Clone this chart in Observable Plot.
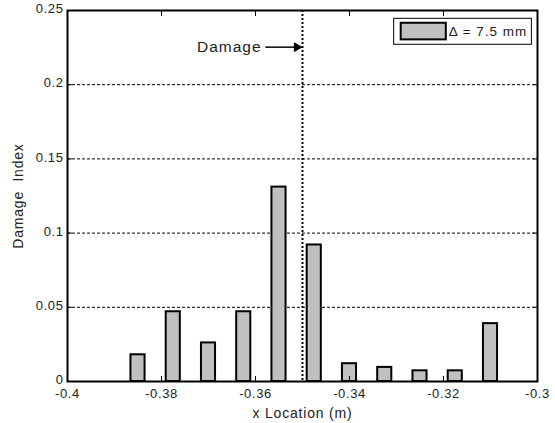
<!DOCTYPE html>
<html>
<head>
<meta charset="utf-8">
<script src="https://cdn.jsdelivr.net/npm/d3@7"></script>
<script src="https://cdn.jsdelivr.net/npm/@observablehq/plot@0.6"></script>
<style>
  html, body { margin: 0; padding: 0; background: #fff; }
  #chart svg { font-family: "Liberation Sans", Arial, sans-serif; display: block; }
  #chart g[aria-label="x-axis tick label"] text,
  #chart g[aria-label="y-axis tick label"] text { font-size: 13px; letter-spacing: 0.6px; fill: #222; }
  #chart g[aria-label="x-axis label"] text,
  #chart g[aria-label="y-axis label"] text { font-size: 14px; letter-spacing: 0.8px; fill: #222; }
  #chart g[aria-label="text"] text { letter-spacing: 1px; }
</style>
</head>
<body>
<div id="chart"></div>
<script>
// ---- data ----
const locations = [-0.385, -0.3775, -0.37, -0.3625, -0.355, -0.3475, -0.34, -0.3325, -0.325, -0.3175, -0.31];
const damageIndex = [0.018, 0.047, 0.026, 0.047, 0.131, 0.092, 0.012, 0.0095, 0.0072, 0.0072, 0.039];
const xTickValues = [-0.4, -0.38, -0.36, -0.34, -0.32, -0.3];
const xTickLabels = ["-0.4", "-0.38", "-0.36", "-0.34", "-0.32", "-0.3"];
const yTickValues = [0, 0.05, 0.1, 0.15, 0.2, 0.25];
const yTickLabels = ["0", "0.05", "0.1", "0.15", "0.2", "0.25"];
const damageLocation = [-0.35];
const damageLabel = "Damage";
const legendLabel = "\u0394 = 7.5 mm";
const xLabel = "x Location (m)";
const yLabel = "Damage  Index";

const bars = locations.map((x, i) => ({x, v: damageIndex[i]}));
const halfWidth = 0.0015;
const barFill = "#c0c0c0";

const chart = Plot.plot({
  width: 555,
  height: 423,
  marginLeft: 67,
  marginRight: 18,
  marginTop: 10,
  marginBottom: 42,
  style: {fontFamily: "Liberation Sans, Arial, sans-serif", background: "white"},
  x: {domain: [-0.4, -0.3]},
  y: {domain: [0, 0.25]},
  marks: [
    Plot.gridY(yTickValues.slice(1, -1), {stroke: "black", strokeOpacity: 1, strokeWidth: 1, strokeDasharray: "3,2"}),
    Plot.ruleX(damageLocation, {stroke: "black", strokeWidth: 2, strokeDasharray: "2,2"}),
    Plot.rectY(bars, {x1: d => d.x - halfWidth, x2: d => d.x + halfWidth, y: "v", fill: barFill, stroke: "black", strokeWidth: 2}),
    Plot.frame({stroke: "black", strokeWidth: 2}),
    Plot.axisX({anchor: "bottom", ticks: xTickValues, tickSize: -5, tickPadding: 12, tickFormat: d => xTickLabels[xTickValues.indexOf(d)], label: xLabel, labelAnchor: "center", labelArrow: "none", labelOffset: 36}),
    Plot.axisX({anchor: "top", ticks: xTickValues, tickSize: -5, tickFormat: () => "", label: null}),
    Plot.axisY({anchor: "left", ticks: yTickValues, tickSize: -5, tickFormat: () => "", label: null}),
    Plot.axisY({anchor: "left", ticks: yTickValues, tickSize: 0, tickPadding: 4, dy: -1.5, tickFormat: d => yTickLabels[yTickValues.indexOf(d)], label: yLabel, labelAnchor: "center", labelArrow: "none", labelOffset: 54}),
    Plot.axisY({anchor: "right", ticks: yTickValues, tickSize: -5, tickFormat: () => "", label: null}),
    // annotation
    Plot.text([damageLabel], {x: -0.3587, y: 0.2253, text: d => d, textAnchor: "end", fontSize: 15.5, fill: "#222"}),
    Plot.ruleY([0.2253], {x1: -0.3578, x2: -0.3515, stroke: "black", strokeWidth: 1.5}),
    Plot.dot([0], {x: -0.3512, y: 0.2253, symbol: "triangle", rotate: 90, r: 3.2, fill: "black", stroke: "black", strokeWidth: 1}),
    // legend
    Plot.rect([0], {x1: -0.3305, x2: -0.3012, y1: 0.2269, y2: 0.2444, fill: "white", stroke: "black", strokeWidth: 1}),
    Plot.rect([0], {x1: -0.3290, x2: -0.3194, y1: 0.2302, y2: 0.2414, fill: barFill, stroke: "black", strokeWidth: 2}),
    Plot.text([legendLabel], {x: -0.3189, y: 0.2357, text: d => d, textAnchor: "start", fontSize: 13.5, fill: "#222"})
  ]
});
document.getElementById("chart").appendChild(chart);
</script>
</body>
</html>
